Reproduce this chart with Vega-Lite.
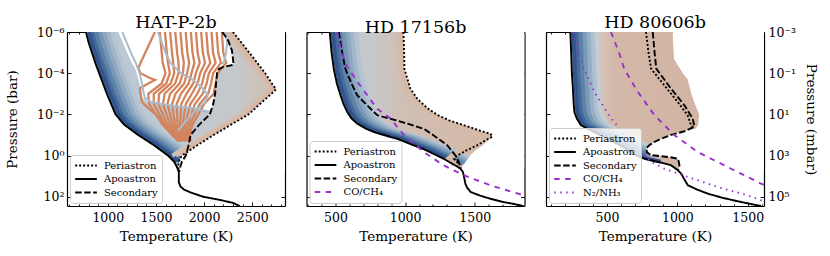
{
"$schema": "https://vega.github.io/schema/vega-lite/v6.json",
"background": "white",
"padding": {"left": 5, "top": 13, "right": 5, "bottom": 5},
"spacing": 21.5,
"bounds": "flush",
"config": {
 "font": "DejaVu Serif",
 "view": {"stroke": null},
 "title": {"font": "DejaVu Serif", "fontSize": 17.5, "fontWeight": "normal", "offset": -5, "color": "black", "anchor": "middle", "frame": "group"},
 "axis": {"labelFont": "DejaVu Serif", "labelFontSize": 12.5, "titleFont": "DejaVu Serif", "titleFontSize": 13.5, "titleFontWeight": "normal", "labelColor": "black", "titleColor": "black", "tickColor": "black", "domainColor": "black", "domainWidth": 1.2, "tickWidth": 0.9, "grid": false, "zindex": 1, "labelFlush": false, "labelOverlap": false},
 "legend": {"orient": "bottom-left", "offset": 3, "padding": 4, "fillColor": "rgba(255,255,255,0.8)", "strokeColor": "#cccccc", "strokeWidth": 1, "cornerRadius": 3, "symbolType": "stroke", "symbolSize": 470, "symbolStrokeWidth": 1.9, "labelFont": "DejaVu Serif", "labelFontSize": 10, "labelColor": "black", "clipHeight": 13, "rowPadding": 0.5, "labelOffset": 6}
},
"datasets": {
"prof": [
{"p":1,"s":"Apoastron","lp":-6,"T":773},{"p":1,"s":"Apoastron","lp":-5.5,"T":800},{"p":1,"s":"Apoastron","lp":-5,"T":835},{"p":1,"s":"Apoastron","lp":-4.5,"T":870},{"p":1,"s":"Apoastron","lp":-4,"T":910},{"p":1,"s":"Apoastron","lp":-3.5,"T":950},{"p":1,"s":"Apoastron","lp":-3,"T":990},{"p":1,"s":"Apoastron","lp":-2.5,"T":1035},{"p":1,"s":"Apoastron","lp":-2,"T":1080},{"p":1,"s":"Apoastron","lp":-1.5,"T":1170},{"p":1,"s":"Apoastron","lp":-1,"T":1315},{"p":1,"s":"Apoastron","lp":-0.5,"T":1480},{"p":1,"s":"Apoastron","lp":0,"T":1625},{"p":1,"s":"Apoastron","lp":0.3,"T":1690},{"p":1,"s":"Apoastron","lp":0.6,"T":1722},{"p":1,"s":"Apoastron","lp":0.8,"T":1738},{"p":1,"s":"Apoastron","lp":1,"T":1738},{"p":1,"s":"Apoastron","lp":1.3,"T":1738},{"p":1,"s":"Apoastron","lp":1.5,"T":1755},{"p":1,"s":"Apoastron","lp":1.65,"T":1790},{"p":1,"s":"Apoastron","lp":1.8,"T":1865},{"p":1,"s":"Apoastron","lp":2,"T":1990},{"p":1,"s":"Apoastron","lp":2.15,"T":2160},{"p":1,"s":"Apoastron","lp":2.3,"T":2300},{"p":1,"s":"Apoastron","lp":2.45,"T":2370},
{"p":1,"s":"Periastron","lp":-6,"T":2300},{"p":1,"s":"Periastron","lp":-5,"T":2470},{"p":1,"s":"Periastron","lp":-4,"T":2635},{"p":1,"s":"Periastron","lp":-3.5,"T":2705},{"p":1,"s":"Periastron","lp":-3.22,"T":2748},{"p":1,"s":"Periastron","lp":-3,"T":2700},{"p":1,"s":"Periastron","lp":-2.5,"T":2580},{"p":1,"s":"Periastron","lp":-2,"T":2462},{"p":1,"s":"Periastron","lp":-1.5,"T":2280},{"p":1,"s":"Periastron","lp":-1,"T":2100},{"p":1,"s":"Periastron","lp":-0.5,"T":1930},{"p":1,"s":"Periastron","lp":0,"T":1770},{"p":1,"s":"Periastron","lp":0.2,"T":1745},{"p":1,"s":"Periastron","lp":0.5,"T":1730},{"p":1,"s":"Periastron","lp":0.8,"T":1742},
{"p":1,"s":"Secondary","lp":-6,"T":2190},{"p":1,"s":"Secondary","lp":-5.6,"T":2250},{"p":1,"s":"Secondary","lp":-5.1,"T":2290},{"p":1,"s":"Secondary","lp":-4.5,"T":2305},{"p":1,"s":"Secondary","lp":-4.4,"T":2300},{"p":1,"s":"Secondary","lp":-4.3,"T":2200},{"p":1,"s":"Secondary","lp":-4.2,"T":2155},{"p":1,"s":"Secondary","lp":-4,"T":2135},{"p":1,"s":"Secondary","lp":-3.5,"T":2125},{"p":1,"s":"Secondary","lp":-3,"T":2115},{"p":1,"s":"Secondary","lp":-2.5,"T":2095},{"p":1,"s":"Secondary","lp":-2,"T":2060},{"p":1,"s":"Secondary","lp":-1.5,"T":1950},{"p":1,"s":"Secondary","lp":-1,"T":1860},{"p":1,"s":"Secondary","lp":-0.5,"T":1840},{"p":1,"s":"Secondary","lp":0,"T":1810},{"p":1,"s":"Secondary","lp":0.3,"T":1770},{"p":1,"s":"Secondary","lp":0.6,"T":1750},{"p":1,"s":"Secondary","lp":0.8,"T":1740},
{"p":2,"s":"Apoastron","lp":-6,"T":459},{"p":2,"s":"Apoastron","lp":-5,"T":472},{"p":2,"s":"Apoastron","lp":-4.2,"T":488},{"p":2,"s":"Apoastron","lp":-3.5,"T":510},{"p":2,"s":"Apoastron","lp":-2.93,"T":536},{"p":2,"s":"Apoastron","lp":-2.5,"T":558},{"p":2,"s":"Apoastron","lp":-2.12,"T":584},{"p":2,"s":"Apoastron","lp":-1.8,"T":615},{"p":2,"s":"Apoastron","lp":-1.55,"T":656},{"p":2,"s":"Apoastron","lp":-1.3,"T":720},{"p":2,"s":"Apoastron","lp":-1.15,"T":775},{"p":2,"s":"Apoastron","lp":-1,"T":850},{"p":2,"s":"Apoastron","lp":-0.82,"T":943},{"p":2,"s":"Apoastron","lp":-0.5,"T":1060},{"p":2,"s":"Apoastron","lp":-0.32,"T":1132},{"p":2,"s":"Apoastron","lp":0,"T":1230},{"p":2,"s":"Apoastron","lp":0.15,"T":1275},{"p":2,"s":"Apoastron","lp":0.4,"T":1340},{"p":2,"s":"Apoastron","lp":0.63,"T":1397},{"p":2,"s":"Apoastron","lp":0.8,"T":1415},{"p":2,"s":"Apoastron","lp":0.95,"T":1420},{"p":2,"s":"Apoastron","lp":1.2,"T":1428},{"p":2,"s":"Apoastron","lp":1.38,"T":1433},{"p":2,"s":"Apoastron","lp":1.55,"T":1445},{"p":2,"s":"Apoastron","lp":1.77,"T":1470},{"p":2,"s":"Apoastron","lp":1.95,"T":1540},{"p":2,"s":"Apoastron","lp":2.1,"T":1613},{"p":2,"s":"Apoastron","lp":2.25,"T":1700},{"p":2,"s":"Apoastron","lp":2.35,"T":1780},{"p":2,"s":"Apoastron","lp":2.45,"T":1850},
{"p":2,"s":"Periastron","lp":-6,"T":988},{"p":2,"s":"Periastron","lp":-5,"T":993},{"p":2,"s":"Periastron","lp":-4.2,"T":995},{"p":2,"s":"Periastron","lp":-3.25,"T":1038},{"p":2,"s":"Periastron","lp":-2.75,"T":1088},{"p":2,"s":"Periastron","lp":-2.3,"T":1160},{"p":2,"s":"Periastron","lp":-1.97,"T":1232},{"p":2,"s":"Periastron","lp":-1.7,"T":1320},{"p":2,"s":"Periastron","lp":-1.48,"T":1419},{"p":2,"s":"Periastron","lp":-1.25,"T":1520},{"p":2,"s":"Periastron","lp":-1.05,"T":1613},{"p":2,"s":"Periastron","lp":-0.92,"T":1627},{"p":2,"s":"Periastron","lp":-0.75,"T":1580},{"p":2,"s":"Periastron","lp":-0.5,"T":1518},{"p":2,"s":"Periastron","lp":-0.25,"T":1440},{"p":2,"s":"Periastron","lp":0,"T":1376},{"p":2,"s":"Periastron","lp":0.15,"T":1350},{"p":2,"s":"Periastron","lp":0.3,"T":1370},{"p":2,"s":"Periastron","lp":0.45,"T":1392},
{"p":2,"s":"Secondary","lp":-6,"T":524},{"p":2,"s":"Secondary","lp":-5,"T":548},{"p":2,"s":"Secondary","lp":-4.2,"T":572},{"p":2,"s":"Secondary","lp":-3.5,"T":615},{"p":2,"s":"Secondary","lp":-2.93,"T":656},{"p":2,"s":"Secondary","lp":-2.5,"T":718},{"p":2,"s":"Secondary","lp":-1.96,"T":800},{"p":2,"s":"Secondary","lp":-1.7,"T":940},{"p":2,"s":"Secondary","lp":-1.5,"T":1040},{"p":2,"s":"Secondary","lp":-1.3,"T":1134},{"p":2,"s":"Secondary","lp":-1,"T":1200},{"p":2,"s":"Secondary","lp":-0.5,"T":1302},{"p":2,"s":"Secondary","lp":0,"T":1362},{"p":2,"s":"Secondary","lp":0.15,"T":1374},{"p":2,"s":"Secondary","lp":0.4,"T":1390},{"p":2,"s":"Secondary","lp":0.63,"T":1400},
{"p":2,"s":"CO/CH₄","lp":-6,"T":512},{"p":2,"s":"CO/CH₄","lp":-5,"T":545},{"p":2,"s":"CO/CH₄","lp":-4.45,"T":572},{"p":2,"s":"CO/CH₄","lp":-3.57,"T":658},{"p":2,"s":"CO/CH₄","lp":-2.27,"T":800},{"p":2,"s":"CO/CH₄","lp":-1.8,"T":895},{"p":2,"s":"CO/CH₄","lp":-1,"T":990},{"p":2,"s":"CO/CH₄","lp":-0.17,"T":1134},{"p":2,"s":"CO/CH₄","lp":0.47,"T":1275},{"p":2,"s":"CO/CH₄","lp":0.95,"T":1419},{"p":2,"s":"CO/CH₄","lp":1.45,"T":1613},{"p":2,"s":"CO/CH₄","lp":1.93,"T":1850},{"p":2,"s":"CO/CH₄","lp":2,"T":1880},
{"p":3,"s":"Apoastron","lp":-6,"T":239},{"p":3,"s":"Apoastron","lp":-5,"T":245},{"p":3,"s":"Apoastron","lp":-4,"T":250},{"p":3,"s":"Apoastron","lp":-3.4,"T":256},{"p":3,"s":"Apoastron","lp":-2.5,"T":263},{"p":3,"s":"Apoastron","lp":-2.1,"T":268},{"p":3,"s":"Apoastron","lp":-1.8,"T":285},{"p":3,"s":"Apoastron","lp":-1.47,"T":315},{"p":3,"s":"Apoastron","lp":-1.2,"T":390},{"p":3,"s":"Apoastron","lp":-1,"T":450},{"p":3,"s":"Apoastron","lp":-0.7,"T":540},{"p":3,"s":"Apoastron","lp":-0.4,"T":620},{"p":3,"s":"Apoastron","lp":-0.2,"T":665},{"p":3,"s":"Apoastron","lp":0,"T":710},{"p":3,"s":"Apoastron","lp":0.15,"T":765},{"p":3,"s":"Apoastron","lp":0.3,"T":860},{"p":3,"s":"Apoastron","lp":0.47,"T":955},{"p":3,"s":"Apoastron","lp":0.71,"T":1003},{"p":3,"s":"Apoastron","lp":0.9,"T":1030},{"p":3,"s":"Apoastron","lp":1.1,"T":1045},{"p":3,"s":"Apoastron","lp":1.44,"T":1074},{"p":3,"s":"Apoastron","lp":1.65,"T":1140},{"p":3,"s":"Apoastron","lp":1.85,"T":1216},{"p":3,"s":"Apoastron","lp":2.05,"T":1320},{"p":3,"s":"Apoastron","lp":2.22,"T":1429},{"p":3,"s":"Apoastron","lp":2.35,"T":1520},{"p":3,"s":"Apoastron","lp":2.45,"T":1595},
{"p":3,"s":"Periastron","lp":-6,"T":777},{"p":3,"s":"Periastron","lp":-5,"T":795},{"p":3,"s":"Periastron","lp":-4.22,"T":813},{"p":3,"s":"Periastron","lp":-3.41,"T":907},{"p":3,"s":"Periastron","lp":-2.6,"T":1003},{"p":3,"s":"Periastron","lp":-1.95,"T":1074},{"p":3,"s":"Periastron","lp":-1.47,"T":1097},{"p":3,"s":"Periastron","lp":-1.35,"T":1112},
{"p":3,"s":"Secondary","lp":-6,"T":825},{"p":3,"s":"Secondary","lp":-5,"T":838},{"p":3,"s":"Secondary","lp":-4.22,"T":850},{"p":3,"s":"Secondary","lp":-3.25,"T":955},{"p":3,"s":"Secondary","lp":-2.44,"T":1050},{"p":3,"s":"Secondary","lp":-1.8,"T":1109},{"p":3,"s":"Secondary","lp":-1.4,"T":1121},{"p":3,"s":"Secondary","lp":-1.2,"T":1060},{"p":3,"s":"Secondary","lp":-1,"T":955},{"p":3,"s":"Secondary","lp":-0.8,"T":880},{"p":3,"s":"Secondary","lp":-0.66,"T":836},{"p":3,"s":"Secondary","lp":-0.5,"T":800},{"p":3,"s":"Secondary","lp":-0.34,"T":777},{"p":3,"s":"Secondary","lp":-0.15,"T":785},{"p":3,"s":"Secondary","lp":-0.02,"T":813},{"p":3,"s":"Secondary","lp":0.08,"T":950},{"p":3,"s":"Secondary","lp":0.15,"T":1003},{"p":3,"s":"Secondary","lp":0.3,"T":1010},{"p":3,"s":"Secondary","lp":0.47,"T":1015},{"p":3,"s":"Secondary","lp":0.6,"T":1010},{"p":3,"s":"Secondary","lp":0.71,"T":1003},
{"p":3,"s":"CO/CH₄","lp":-6,"T":528},{"p":3,"s":"CO/CH₄","lp":-5,"T":585},{"p":3,"s":"CO/CH₄","lp":-4.2,"T":623},{"p":3,"s":"CO/CH₄","lp":-3.1,"T":718},{"p":3,"s":"CO/CH₄","lp":-1.97,"T":836},{"p":3,"s":"CO/CH₄","lp":-1,"T":977},{"p":3,"s":"CO/CH₄","lp":-0.17,"T":1145},{"p":3,"s":"CO/CH₄","lp":0.64,"T":1382},{"p":3,"s":"CO/CH₄","lp":1.36,"T":1595},{"p":3,"s":"CO/CH₄","lp":1.45,"T":1625},
{"p":3,"s":"N₂/NH₃","lp":-6,"T":262},{"p":3,"s":"N₂/NH₃","lp":-5,"T":295},{"p":3,"s":"N₂/NH₃","lp":-4.2,"T":338},{"p":3,"s":"N₂/NH₃","lp":-3.1,"T":409},{"p":3,"s":"N₂/NH₃","lp":-1.8,"T":528},{"p":3,"s":"N₂/NH₃","lp":-0.67,"T":671},{"p":3,"s":"N₂/NH₃","lp":0.3,"T":813},{"p":3,"s":"N₂/NH₃","lp":0.64,"T":907},{"p":3,"s":"N₂/NH₃","lp":1.04,"T":1074},{"p":3,"s":"N₂/NH₃","lp":1.53,"T":1287},{"p":3,"s":"N₂/NH₃","lp":1.93,"T":1500},{"p":3,"s":"N₂/NH₃","lp":2.25,"T":1625}
],
"fill": [
{"p":1,"lp":-6,"lo":773,"hi":2300},{"p":1,"lp":-5,"lo":835,"hi":2470},{"p":1,"lp":-4,"lo":910,"hi":2635},{"p":1,"lp":-3.5,"lo":950,"hi":2705},{"p":1,"lp":-3.22,"lo":972,"hi":2748},{"p":1,"lp":-3,"lo":990,"hi":2700},{"p":1,"lp":-2.5,"lo":1035,"hi":2580},{"p":1,"lp":-2,"lo":1080,"hi":2462},{"p":1,"lp":-1.5,"lo":1170,"hi":2280},{"p":1,"lp":-1,"lo":1315,"hi":2100},{"p":1,"lp":-0.5,"lo":1480,"hi":1930},{"p":1,"lp":0,"lo":1625,"hi":1770},{"p":1,"lp":0.2,"lo":1668,"hi":1745},{"p":1,"lp":0.5,"lo":1712,"hi":1730},{"p":1,"lp":0.8,"lo":1738,"hi":1742},
{"p":2,"lp":-6,"lo":459,"hi":988},{"p":2,"lp":-5,"lo":472,"hi":993},{"p":2,"lp":-4.2,"lo":488,"hi":995},{"p":2,"lp":-3.25,"lo":515,"hi":1038},{"p":2,"lp":-2.75,"lo":545,"hi":1088},{"p":2,"lp":-2.3,"lo":570,"hi":1160},{"p":2,"lp":-1.97,"lo":600,"hi":1232},{"p":2,"lp":-1.7,"lo":630,"hi":1320},{"p":2,"lp":-1.48,"lo":672,"hi":1419},{"p":2,"lp":-1.25,"lo":740,"hi":1520},{"p":2,"lp":-1.05,"lo":825,"hi":1613},{"p":2,"lp":-0.92,"lo":890,"hi":1627},{"p":2,"lp":-0.75,"lo":975,"hi":1600},{"p":2,"lp":-0.5,"lo":1060,"hi":1560},{"p":2,"lp":-0.25,"lo":1160,"hi":1505},{"p":2,"lp":0,"lo":1230,"hi":1469},{"p":2,"lp":0.2,"lo":1290,"hi":1445},{"p":2,"lp":0.4,"lo":1340,"hi":1425},{"p":2,"lp":0.6,"lo":1390,"hi":1405},
{"p":3,"lp":-6,"lo":239,"hi":967},{"p":3,"lp":-5,"lo":245,"hi":975},{"p":3,"lp":-4.7,"lo":247,"hi":977},{"p":3,"lp":-4,"lo":250,"hi":1040},{"p":3,"lp":-3.7,"lo":253,"hi":1074},{"p":3,"lp":-3,"lo":259,"hi":1100},{"p":3,"lp":-2.6,"lo":262,"hi":1121},{"p":3,"lp":-2,"lo":270,"hi":1155},{"p":3,"lp":-1.5,"lo":310,"hi":1150},{"p":3,"lp":-1.3,"lo":365,"hi":1130},{"p":3,"lp":-1.2,"lo":390,"hi":1060},{"p":3,"lp":-1,"lo":450,"hi":955},{"p":3,"lp":-0.8,"lo":510,"hi":880},{"p":3,"lp":-0.66,"lo":552,"hi":836},{"p":3,"lp":-0.5,"lo":590,"hi":800},{"p":3,"lp":-0.34,"lo":633,"hi":777},{"p":3,"lp":-0.15,"lo":675,"hi":785},{"p":3,"lp":-0.02,"lo":705,"hi":813},{"p":3,"lp":0.08,"lo":740,"hi":950},{"p":3,"lp":0.15,"lo":765,"hi":1003},{"p":3,"lp":0.3,"lo":860,"hi":1010},{"p":3,"lp":0.47,"lo":955,"hi":1015},{"p":3,"lp":0.6,"lo":985,"hi":1010},{"p":3,"lp":0.71,"lo":1003,"hi":1003}
],
"hole": [
{"lp":-6,"L":1110,"R":2190},{"lp":-5,"L":1200,"R":2290},{"lp":-4.5,"L":1250,"R":2305},{"lp":-4.4,"L":1262,"R":2300},{"lp":-4.3,"L":1275,"R":2200},{"lp":-4.2,"L":1285,"R":2155},{"lp":-4,"L":1300,"R":2135},{"lp":-3.5,"L":1330,"R":2125},{"lp":-3,"L":1350,"R":2115},{"lp":-2.8,"L":1360,"R":2110},{"lp":-2.6,"L":1420,"R":2100},{"lp":-2.45,"L":1600,"R":2095},{"lp":-2.3,"L":1900,"R":2080},{"lp":-2.2,"L":2070,"R":2072}
],
"pale": [
{"id":1,"lp":-6,"T":1150},{"id":1,"lp":-5,"T":1240},{"id":1,"lp":-4.5,"T":1290},{"id":1,"lp":-4,"T":1330},{"id":1,"lp":-3.5,"T":1355},{"id":1,"lp":-3,"T":1375},{"id":1,"lp":-2.8,"T":1385},{"id":1,"lp":-2.6,"T":1450},{"id":1,"lp":-2.45,"T":1620},{"id":1,"lp":-2.3,"T":1880},{"id":1,"lp":-2.1,"T":2040},
{"id":2,"lp":-6,"T":1520},{"id":2,"lp":-5.5,"T":1560},{"id":2,"lp":-5,"T":1600},{"id":2,"lp":-4.5,"T":1650},{"id":2,"lp":-4,"T":1760},{"id":2,"lp":-3.67,"T":1888},{"id":2,"lp":-3.3,"T":1980},{"id":2,"lp":-2.94,"T":2040},{"id":2,"lp":-2.6,"T":2010},{"id":2,"lp":-2.3,"T":1940},{"id":2,"lp":-2,"T":1870},{"id":2,"lp":-1.5,"T":1780},{"id":2,"lp":-1.2,"T":1730},
{"id":3,"lp":-6,"T":2215},{"id":3,"lp":-5.5,"T":2240},{"id":3,"lp":-5,"T":2230},{"id":3,"lp":-4.6,"T":2210},{"id":3,"lp":-4.45,"T":2190}
],
"orange": [
{"id":1,"lp":-6,"T":1490},{"id":1,"lp":-5.5,"T":1440},{"id":1,"lp":-5,"T":1390},{"id":1,"lp":-4.5,"T":1340},{"id":1,"lp":-4.24,"T":1317},{"id":1,"lp":-4,"T":1340},{"id":1,"lp":-3.8,"T":1420},{"id":1,"lp":-3.67,"T":1490},{"id":1,"lp":-3.5,"T":1420},{"id":1,"lp":-3.27,"T":1334},{"id":1,"lp":-3,"T":1340},{"id":1,"lp":-2.62,"T":1352},{"id":1,"lp":-2.3,"T":1420},{"id":1,"lp":-2,"T":1500},{"id":1,"lp":-1.5,"T":1590},{"id":1,"lp":-1,"T":1670},{"id":1,"lp":-0.7,"T":1735},
{"id":2,"lp":-6,"T":1540},{"id":2,"lp":-5,"T":1560},{"id":2,"lp":-4.5,"T":1570},{"id":2,"lp":-4,"T":1600},{"id":2,"lp":-3.5,"T":1560},{"id":2,"lp":-3,"T":1420},{"id":2,"lp":-2.5,"T":1430},{"id":2,"lp":-2,"T":1500},{"id":2,"lp":-1.5,"T":1570},{"id":2,"lp":-1,"T":1670},{"id":2,"lp":-0.7,"T":1740},
{"id":3,"lp":-6,"T":1594},{"id":3,"lp":-5,"T":1613},{"id":3,"lp":-4.5,"T":1625},{"id":3,"lp":-4,"T":1645},{"id":3,"lp":-3.5,"T":1607},{"id":3,"lp":-3,"T":1477},{"id":3,"lp":-2.5,"T":1478},{"id":3,"lp":-2,"T":1537},{"id":3,"lp":-1.5,"T":1596},{"id":3,"lp":-1,"T":1685},{"id":3,"lp":-0.7,"T":1750},
{"id":4,"lp":-6,"T":1648},{"id":4,"lp":-5,"T":1667},{"id":4,"lp":-4.5,"T":1680},{"id":4,"lp":-4,"T":1690},{"id":4,"lp":-3.5,"T":1653},{"id":4,"lp":-3,"T":1533},{"id":4,"lp":-2.5,"T":1525},{"id":4,"lp":-2,"T":1573},{"id":4,"lp":-1.5,"T":1622},{"id":4,"lp":-1,"T":1700},{"id":4,"lp":-0.7,"T":1760},
{"id":5,"lp":-6,"T":1701},{"id":5,"lp":-5,"T":1720},{"id":5,"lp":-4.5,"T":1735},{"id":5,"lp":-4,"T":1735},{"id":5,"lp":-3.5,"T":1700},{"id":5,"lp":-3,"T":1590},{"id":5,"lp":-2.5,"T":1573},{"id":5,"lp":-2,"T":1610},{"id":5,"lp":-1.5,"T":1648},{"id":5,"lp":-1,"T":1715},{"id":5,"lp":-0.7,"T":1770},
{"id":6,"lp":-6,"T":1755},{"id":6,"lp":-5,"T":1773},{"id":6,"lp":-4.5,"T":1790},{"id":6,"lp":-4,"T":1780},{"id":6,"lp":-3.5,"T":1747},{"id":6,"lp":-3,"T":1647},{"id":6,"lp":-2.5,"T":1620},{"id":6,"lp":-2,"T":1647},{"id":6,"lp":-1.5,"T":1673},{"id":6,"lp":-1,"T":1730},{"id":6,"lp":-0.7,"T":1780},
{"id":7,"lp":-6,"T":1809},{"id":7,"lp":-5,"T":1827},{"id":7,"lp":-4.5,"T":1845},{"id":7,"lp":-4,"T":1825},{"id":7,"lp":-3.5,"T":1793},{"id":7,"lp":-3,"T":1703},{"id":7,"lp":-2.5,"T":1668},{"id":7,"lp":-2,"T":1683},{"id":7,"lp":-1.5,"T":1699},{"id":7,"lp":-1,"T":1745},{"id":7,"lp":-0.7,"T":1790},
{"id":8,"lp":-6,"T":1863},{"id":8,"lp":-5,"T":1880},{"id":8,"lp":-4.5,"T":1900},{"id":8,"lp":-4,"T":1870},{"id":8,"lp":-3.5,"T":1840},{"id":8,"lp":-3,"T":1760},{"id":8,"lp":-2.5,"T":1715},{"id":8,"lp":-2,"T":1720},{"id":8,"lp":-1.5,"T":1725},{"id":8,"lp":-1,"T":1760},{"id":8,"lp":-0.7,"T":1800},
{"id":9,"lp":-6,"T":1916},{"id":9,"lp":-5,"T":1933},{"id":9,"lp":-4.5,"T":1955},{"id":9,"lp":-4,"T":1915},{"id":9,"lp":-3.5,"T":1887},{"id":9,"lp":-3,"T":1817},{"id":9,"lp":-2.5,"T":1763},{"id":9,"lp":-2,"T":1757},{"id":9,"lp":-1.5,"T":1751},{"id":9,"lp":-1,"T":1775},{"id":9,"lp":-0.7,"T":1810},
{"id":10,"lp":-6,"T":1970},{"id":10,"lp":-5,"T":1987},{"id":10,"lp":-4.5,"T":2010},{"id":10,"lp":-4,"T":1960},{"id":10,"lp":-3.5,"T":1933},{"id":10,"lp":-3,"T":1873},{"id":10,"lp":-2.5,"T":1810},{"id":10,"lp":-2,"T":1793},{"id":10,"lp":-1.5,"T":1777},{"id":10,"lp":-1,"T":1790},{"id":10,"lp":-0.7,"T":1820},
{"id":11,"lp":-6,"T":2024},{"id":11,"lp":-5,"T":2040},{"id":11,"lp":-4.5,"T":2065},{"id":11,"lp":-4,"T":2005},{"id":11,"lp":-3.5,"T":1980},{"id":11,"lp":-3,"T":1930},{"id":11,"lp":-2.5,"T":1858},{"id":11,"lp":-2,"T":1830},{"id":11,"lp":-1.5,"T":1803},{"id":11,"lp":-1,"T":1805},{"id":11,"lp":-0.7,"T":1830},
{"id":12,"lp":-6,"T":2078},{"id":12,"lp":-5,"T":2093},{"id":12,"lp":-4.5,"T":2120},{"id":12,"lp":-4,"T":2050},{"id":12,"lp":-3.5,"T":2027},{"id":12,"lp":-3,"T":1987},{"id":12,"lp":-2.5,"T":1905},{"id":12,"lp":-2,"T":1867},{"id":12,"lp":-1.5,"T":1828},{"id":12,"lp":-1,"T":1820},{"id":12,"lp":-0.7,"T":1840},
{"id":13,"lp":-6,"T":2131},{"id":13,"lp":-5,"T":2147},{"id":13,"lp":-4.5,"T":2175},{"id":13,"lp":-4,"T":2095},{"id":13,"lp":-3.5,"T":2073},{"id":13,"lp":-3,"T":2043},{"id":13,"lp":-2.5,"T":1953},{"id":13,"lp":-2,"T":1903},{"id":13,"lp":-1.5,"T":1854},{"id":13,"lp":-1,"T":1835},{"id":13,"lp":-0.7,"T":1850},
{"id":14,"lp":-6,"T":2185},{"id":14,"lp":-5,"T":2200},{"id":14,"lp":-4.5,"T":2230},{"id":14,"lp":-4,"T":2140},{"id":14,"lp":-3.5,"T":2120},{"id":14,"lp":-3,"T":2100},{"id":14,"lp":-2.5,"T":2000},{"id":14,"lp":-2,"T":1940},{"id":14,"lp":-1.5,"T":1880},{"id":14,"lp":-1,"T":1850},{"id":14,"lp":-0.7,"T":1860}
]
},
"hconcat": [
{
 "width": 218, "height": 174,
 "title": "HAT-P-2b",
 "resolve": {"axis": {"x": "independent", "y": "independent"}},
 "layer": [
  {"data": {"name": "fill"}, "transform": [{"filter": "datum.p == 1"}],
   "mark": {"type": "area", "orient": "horizontal", "clip": true, "fill": {"gradient": "linear", "x1": 0, "y1": 0, "x2": 1, "y2": 0, "stops": [{"offset": 0, "color": "#b9c7d4"}, {"offset": 0.5, "color": "#c0c9d2"}, {"offset": 0.8, "color": "#c6c8ca"}, {"offset": 1, "color": "#d2bfb3"}]}},
   "encoding": {
    "y": {"field": "lp", "type": "quantitative", "scale": {"domain": [-6, 2.45], "reverse": true, "nice": false, "zero": false}, "axis": {"orient": "right", "values": [-6, -4, -2, 0, 2], "tickSize": -4, "labels": false, "title": null}},
    "x": {"field": "lo", "type": "quantitative", "scale": {"domain": [576, 2841], "nice": false, "zero": false}, "axis": {"orient": "top", "values": [600,700,800,900,1000,1100,1200,1300,1400,1500,1600,1700,1800,1900,2000,2100,2200,2300,2400,2500,2600,2700,2800], "labels": false, "title": null, "tickSize": {"condition": {"test": "datum.value % 500 === 0", "value": -4}, "value": -2}}},
    "x2": {"field": "hi"}}},
  {"data": {"name": "prof"}, "transform": [{"filter": "datum.p == 1 && datum.s == 'Apoastron' && datum.lp <= 0.3"}], "mark": {"type": "line", "xOffset": 26, "color": "#b4c3d1", "strokeWidth": 4.5, "clip": true}, "encoding": {"x": {"field": "T", "type": "quantitative", "axis": null}, "y": {"field": "lp", "type": "quantitative", "axis": null}, "order": {"field": "lp", "type": "quantitative"}}},
  {"data": {"name": "prof"}, "transform": [{"filter": "datum.p == 1 && datum.s == 'Apoastron' && datum.lp <= 0.3"}], "mark": {"type": "line", "xOffset": 22, "color": "#a3b7c9", "strokeWidth": 4.5, "clip": true}, "encoding": {"x": {"field": "T", "type": "quantitative", "axis": null}, "y": {"field": "lp", "type": "quantitative", "axis": null}, "order": {"field": "lp", "type": "quantitative"}}},
  {"data": {"name": "prof"}, "transform": [{"filter": "datum.p == 1 && datum.s == 'Apoastron' && datum.lp <= 0.3"}], "mark": {"type": "line", "xOffset": 18, "color": "#8ea8c0", "strokeWidth": 4.5, "clip": true}, "encoding": {"x": {"field": "T", "type": "quantitative", "axis": null}, "y": {"field": "lp", "type": "quantitative", "axis": null}, "order": {"field": "lp", "type": "quantitative"}}},
  {"data": {"name": "prof"}, "transform": [{"filter": "datum.p == 1 && datum.s == 'Apoastron' && datum.lp <= 0.3"}], "mark": {"type": "line", "xOffset": 14, "color": "#7596b4", "strokeWidth": 4.5, "clip": true}, "encoding": {"x": {"field": "T", "type": "quantitative", "axis": null}, "y": {"field": "lp", "type": "quantitative", "axis": null}, "order": {"field": "lp", "type": "quantitative"}}},
  {"data": {"name": "prof"}, "transform": [{"filter": "datum.p == 1 && datum.s == 'Apoastron' && datum.lp <= 0.3"}], "mark": {"type": "line", "xOffset": 10, "color": "#5c82a8", "strokeWidth": 4.5, "clip": true}, "encoding": {"x": {"field": "T", "type": "quantitative", "axis": null}, "y": {"field": "lp", "type": "quantitative", "axis": null}, "order": {"field": "lp", "type": "quantitative"}}},
  {"data": {"name": "prof"}, "transform": [{"filter": "datum.p == 1 && datum.s == 'Apoastron' && datum.lp <= 0.3"}], "mark": {"type": "line", "xOffset": 6, "color": "#44699a", "strokeWidth": 4.5, "clip": true}, "encoding": {"x": {"field": "T", "type": "quantitative", "axis": null}, "y": {"field": "lp", "type": "quantitative", "axis": null}, "order": {"field": "lp", "type": "quantitative"}}},
  {"data": {"name": "prof"}, "transform": [{"filter": "datum.p == 1 && datum.s == 'Apoastron' && datum.lp <= 0.3"}], "mark": {"type": "line", "xOffset": 3, "color": "#31548a", "strokeWidth": 4, "clip": true}, "encoding": {"x": {"field": "T", "type": "quantitative", "axis": null}, "y": {"field": "lp", "type": "quantitative", "axis": null}, "order": {"field": "lp", "type": "quantitative"}}},
  {"data": {"name": "prof"}, "transform": [{"filter": "datum.p == 1 && datum.s == 'Periastron' && datum.lp <= 0"}], "mark": {"type": "line", "xOffset": -9.5, "color": "#cbc3bd", "strokeWidth": 4, "clip": true}, "encoding": {"x": {"field": "T", "type": "quantitative", "axis": null}, "y": {"field": "lp", "type": "quantitative", "axis": null}, "order": {"field": "lp", "type": "quantitative"}}},
  {"data": {"name": "prof"}, "transform": [{"filter": "datum.p == 1 && datum.s == 'Periastron' && datum.lp <= 0"}], "mark": {"type": "line", "xOffset": -6, "color": "#d3bdaf", "strokeWidth": 4, "clip": true}, "encoding": {"x": {"field": "T", "type": "quantitative", "axis": null}, "y": {"field": "lp", "type": "quantitative", "axis": null}, "order": {"field": "lp", "type": "quantitative"}}},
  {"data": {"name": "prof"}, "transform": [{"filter": "datum.p == 1 && datum.s == 'Periastron' && datum.lp <= 0"}], "mark": {"type": "line", "xOffset": -2.5, "color": "#d9b7a4", "strokeWidth": 4, "clip": true}, "encoding": {"x": {"field": "T", "type": "quantitative", "axis": null}, "y": {"field": "lp", "type": "quantitative", "axis": null}, "order": {"field": "lp", "type": "quantitative"}}},
  {"data": {"name": "fill"}, "transform": [{"filter": "datum.p == 1"}], "mark": {"type": "area", "orient": "horizontal", "color": "white", "clip": true}, "encoding": {"y": {"field": "lp", "type": "quantitative", "axis": null}, "x": {"field": "hi", "type": "quantitative", "axis": null}, "x2": {"datum": 2841}}},
  {"data": {"name": "hole"}, "mark": {"type": "area", "orient": "horizontal", "color": "white", "clip": true}, "encoding": {"y": {"field": "lp", "type": "quantitative", "axis": null}, "x": {"field": "L", "type": "quantitative", "axis": null}, "x2": {"field": "R"}}},
  {"data": {"name": "orange"}, "mark": {"type": "line", "color": "#d3845c", "strokeWidth": 2.3, "clip": true}, "encoding": {"x": {"field": "T", "type": "quantitative", "axis": null}, "y": {"field": "lp", "type": "quantitative", "axis": null}, "detail": {"field": "id"}, "order": {"field": "lp", "type": "quantitative"}}},
  {"data": {"name": "pale"}, "mark": {"type": "line", "color": "#a9bccb", "strokeWidth": 2, "clip": true}, "encoding": {"x": {"field": "T", "type": "quantitative", "axis": null}, "y": {"field": "lp", "type": "quantitative", "axis": null}, "detail": {"field": "id"}, "order": {"field": "lp", "type": "quantitative"}}},
  {"data": {"name": "prof"}, "transform": [{"filter": "datum.p == 1"}], "mark": {"type": "line", "strokeWidth": 1.9, "clip": true},
   "encoding": {
    "x": {"field": "T", "type": "quantitative", "axis": {"orient": "bottom", "values": [600,700,800,900,1000,1100,1200,1300,1400,1500,1600,1700,1800,1900,2000,2100,2200,2300,2400,2500,2600,2700,2800], "format": "d", "labelExpr": "datum.value % 500 === 0 ? datum.label : ''", "tickSize": {"condition": {"test": "datum.value % 500 === 0", "value": -4}, "value": -2}, "labelPadding": 9, "title": "Temperature (K)", "titlePadding": 4}},
    "y": {"field": "lp", "type": "quantitative", "axis": {"orient": "left", "values": [-6, -4, -2, 0, 2], "tickSize": -4, "labelPadding": 7, "labelExpr": "datum.value == -6 ? '10⁻⁶' : datum.value == -4 ? '10⁻⁴' : datum.value == -2 ? '10⁻²' : datum.value == 0 ? '10⁰' : '10²'", "title": "Pressure (bar)", "titlePadding": 17}},
    "order": {"field": "lp", "type": "quantitative"},
    "color": {"field": "s", "type": "nominal", "scale": {"domain": ["Periastron", "Apoastron", "Secondary"], "range": ["black", "black", "black"]}, "legend": {"title": null}},
    "strokeDash": {"field": "s", "type": "nominal", "scale": {"domain": ["Periastron", "Apoastron", "Secondary"], "range": [[2, 2], [1, 0], [6.5, 2.5]]}, "legend": {"title": null}}}}
 ]
},
{
 "width": 218, "height": 174,
 "title": "HD 17156b",
 "resolve": {"axis": {"x": "independent", "y": "independent"}},
 "layer": [
  {"data": {"name": "fill"}, "transform": [{"filter": "datum.p == 2"}],
   "mark": {"type": "area", "orient": "horizontal", "clip": true, "fill": {"gradient": "linear", "x1": 0, "y1": 0, "x2": 1, "y2": 0, "stops": [{"offset": 0, "color": "#b8c6d3"}, {"offset": 0.25, "color": "#c6c9cc"}, {"offset": 0.45, "color": "#d0bfb4"}, {"offset": 1, "color": "#d5b8a6"}]}},
   "encoding": {
    "y": {"field": "lp", "type": "quantitative", "scale": {"domain": [-6, 2.45], "reverse": true, "nice": false, "zero": false}, "axis": {"orient": "right", "values": [-6, -4, -2, 0, 2], "tickSize": -4, "labels": false, "title": null}},
    "x": {"field": "lo", "type": "quantitative", "scale": {"domain": [292, 1857], "nice": false, "zero": false}, "axis": {"orient": "top", "values": [300,400,500,600,700,800,900,1000,1100,1200,1300,1400,1500,1600,1700,1800], "labels": false, "title": null, "tickSize": {"condition": {"test": "datum.value % 500 === 0", "value": -4}, "value": -2}}},
    "x2": {"field": "hi"}}},
  {"data": {"name": "prof"}, "transform": [{"filter": "datum.p == 2 && datum.s == 'Apoastron' && datum.lp <= 0.5"}], "mark": {"type": "line", "xOffset": 26, "color": "#b4c3d1", "strokeWidth": 4.5, "clip": true}, "encoding": {"x": {"field": "T", "type": "quantitative", "axis": null}, "y": {"field": "lp", "type": "quantitative", "axis": null}, "order": {"field": "lp", "type": "quantitative"}}},
  {"data": {"name": "prof"}, "transform": [{"filter": "datum.p == 2 && datum.s == 'Apoastron' && datum.lp <= 0.5"}], "mark": {"type": "line", "xOffset": 22, "color": "#a3b7c9", "strokeWidth": 4.5, "clip": true}, "encoding": {"x": {"field": "T", "type": "quantitative", "axis": null}, "y": {"field": "lp", "type": "quantitative", "axis": null}, "order": {"field": "lp", "type": "quantitative"}}},
  {"data": {"name": "prof"}, "transform": [{"filter": "datum.p == 2 && datum.s == 'Apoastron' && datum.lp <= 0.5"}], "mark": {"type": "line", "xOffset": 18, "color": "#8ea8c0", "strokeWidth": 4.5, "clip": true}, "encoding": {"x": {"field": "T", "type": "quantitative", "axis": null}, "y": {"field": "lp", "type": "quantitative", "axis": null}, "order": {"field": "lp", "type": "quantitative"}}},
  {"data": {"name": "prof"}, "transform": [{"filter": "datum.p == 2 && datum.s == 'Apoastron' && datum.lp <= 0.5"}], "mark": {"type": "line", "xOffset": 14, "color": "#7596b4", "strokeWidth": 4.5, "clip": true}, "encoding": {"x": {"field": "T", "type": "quantitative", "axis": null}, "y": {"field": "lp", "type": "quantitative", "axis": null}, "order": {"field": "lp", "type": "quantitative"}}},
  {"data": {"name": "prof"}, "transform": [{"filter": "datum.p == 2 && datum.s == 'Apoastron' && datum.lp <= 0.5"}], "mark": {"type": "line", "xOffset": 10, "color": "#5c82a8", "strokeWidth": 4.5, "clip": true}, "encoding": {"x": {"field": "T", "type": "quantitative", "axis": null}, "y": {"field": "lp", "type": "quantitative", "axis": null}, "order": {"field": "lp", "type": "quantitative"}}},
  {"data": {"name": "prof"}, "transform": [{"filter": "datum.p == 2 && datum.s == 'Apoastron' && datum.lp <= 0.5"}], "mark": {"type": "line", "xOffset": 6, "color": "#44699a", "strokeWidth": 4.5, "clip": true}, "encoding": {"x": {"field": "T", "type": "quantitative", "axis": null}, "y": {"field": "lp", "type": "quantitative", "axis": null}, "order": {"field": "lp", "type": "quantitative"}}},
  {"data": {"name": "prof"}, "transform": [{"filter": "datum.p == 2 && datum.s == 'Apoastron' && datum.lp <= 0.5"}], "mark": {"type": "line", "xOffset": 3, "color": "#31548a", "strokeWidth": 4, "clip": true}, "encoding": {"x": {"field": "T", "type": "quantitative", "axis": null}, "y": {"field": "lp", "type": "quantitative", "axis": null}, "order": {"field": "lp", "type": "quantitative"}}},
  {"data": {"name": "prof"}, "transform": [{"filter": "datum.p == 2 && datum.s == 'Periastron'"}], "mark": {"type": "line", "xOffset": -6, "color": "#d3bdaf", "strokeWidth": 4, "clip": true}, "encoding": {"x": {"field": "T", "type": "quantitative", "axis": null}, "y": {"field": "lp", "type": "quantitative", "axis": null}, "order": {"field": "lp", "type": "quantitative"}}},
  {"data": {"name": "prof"}, "transform": [{"filter": "datum.p == 2 && datum.s == 'Periastron'"}], "mark": {"type": "line", "xOffset": -2.5, "color": "#d7b8a5", "strokeWidth": 4, "clip": true}, "encoding": {"x": {"field": "T", "type": "quantitative", "axis": null}, "y": {"field": "lp", "type": "quantitative", "axis": null}, "order": {"field": "lp", "type": "quantitative"}}},
  {"data": {"name": "fill"}, "transform": [{"filter": "datum.p == 2"}], "mark": {"type": "area", "orient": "horizontal", "color": "white", "clip": true}, "encoding": {"y": {"field": "lp", "type": "quantitative", "axis": null}, "x": {"field": "hi", "type": "quantitative", "axis": null}, "x2": {"datum": 1857}}},
  {"data": {"name": "prof"}, "transform": [{"filter": "datum.p == 2"}], "mark": {"type": "line", "strokeWidth": 1.9, "clip": true},
   "encoding": {
    "x": {"field": "T", "type": "quantitative", "axis": {"orient": "bottom", "values": [300,400,500,600,700,800,900,1000,1100,1200,1300,1400,1500,1600,1700,1800], "format": "d", "labelExpr": "datum.value % 500 === 0 ? datum.label : ''", "tickSize": {"condition": {"test": "datum.value % 500 === 0", "value": -4}, "value": -2}, "labelPadding": 9, "title": "Temperature (K)", "titlePadding": 4}},
    "y": {"field": "lp", "type": "quantitative", "axis": {"orient": "left", "values": [-6, -4, -2, 0, 2], "tickSize": -4, "labels": false, "title": null}},
    "order": {"field": "lp", "type": "quantitative"},
    "color": {"field": "s", "type": "nominal", "scale": {"domain": ["Periastron", "Apoastron", "Secondary", "CO/CH₄"], "range": ["black", "black", "black", "#9932cc"]}, "legend": {"title": null}},
    "strokeDash": {"field": "s", "type": "nominal", "scale": {"domain": ["Periastron", "Apoastron", "Secondary", "CO/CH₄"], "range": [[2, 2], [1, 0], [6.5, 2.5], [5.5, 5.5]]}, "legend": {"title": null}}}}
 ]
},
{
 "width": 218, "height": 174,
 "title": "HD 80606b",
 "resolve": {"axis": {"x": "independent", "y": "independent"}},
 "layer": [
  {"data": {"name": "fill"}, "transform": [{"filter": "datum.p == 3"}],
   "mark": {"type": "area", "orient": "horizontal", "clip": true, "fill": {"gradient": "linear", "x1": 0, "y1": 0, "x2": 1, "y2": 0, "stops": [{"offset": 0, "color": "#c9d0d6"}, {"offset": 0.15, "color": "#d8cdc6"}, {"offset": 0.35, "color": "#d3b8a8"}, {"offset": 1, "color": "#d2b4a3"}]}},
   "encoding": {
    "y": {"field": "lp", "type": "quantitative", "scale": {"domain": [-6, 2.45], "reverse": true, "nice": false, "zero": false}, "axis": {"orient": "right", "values": [-6, -4, -2, 0, 2], "tickSize": -4, "labelPadding": 8, "labelExpr": "datum.value == -6 ? '10⁻³' : datum.value == -4 ? '10⁻¹' : datum.value == -2 ? '10¹' : datum.value == 0 ? '10³' : '10⁵'", "title": "Pressure (mbar)", "titlePadding": 8}},
    "x": {"field": "lo", "type": "quantitative", "scale": {"domain": [66, 1616], "nice": false, "zero": false}, "axis": {"orient": "top", "values": [100,200,300,400,500,600,700,800,900,1000,1100,1200,1300,1400,1500,1600], "labels": false, "title": null, "tickSize": {"condition": {"test": "datum.value % 500 === 0", "value": -4}, "value": -2}}},
    "x2": {"field": "hi"}}},
  {"data": {"name": "prof"}, "transform": [{"filter": "datum.p == 3 && datum.s == 'Apoastron' && datum.lp <= 0"}], "mark": {"type": "line", "xOffset": 26, "color": "#c3cdd6", "strokeWidth": 4.5, "clip": true}, "encoding": {"x": {"field": "T", "type": "quantitative", "axis": null}, "y": {"field": "lp", "type": "quantitative", "axis": null}, "order": {"field": "lp", "type": "quantitative"}}},
  {"data": {"name": "prof"}, "transform": [{"filter": "datum.p == 3 && datum.s == 'Apoastron' && datum.lp <= 0"}], "mark": {"type": "line", "xOffset": 22, "color": "#afc0cf", "strokeWidth": 4.5, "clip": true}, "encoding": {"x": {"field": "T", "type": "quantitative", "axis": null}, "y": {"field": "lp", "type": "quantitative", "axis": null}, "order": {"field": "lp", "type": "quantitative"}}},
  {"data": {"name": "prof"}, "transform": [{"filter": "datum.p == 3 && datum.s == 'Apoastron' && datum.lp <= 0"}], "mark": {"type": "line", "xOffset": 18, "color": "#97afc5", "strokeWidth": 4.5, "clip": true}, "encoding": {"x": {"field": "T", "type": "quantitative", "axis": null}, "y": {"field": "lp", "type": "quantitative", "axis": null}, "order": {"field": "lp", "type": "quantitative"}}},
  {"data": {"name": "prof"}, "transform": [{"filter": "datum.p == 3 && datum.s == 'Apoastron' && datum.lp <= 0"}], "mark": {"type": "line", "xOffset": 14, "color": "#7a9ab8", "strokeWidth": 4.5, "clip": true}, "encoding": {"x": {"field": "T", "type": "quantitative", "axis": null}, "y": {"field": "lp", "type": "quantitative", "axis": null}, "order": {"field": "lp", "type": "quantitative"}}},
  {"data": {"name": "prof"}, "transform": [{"filter": "datum.p == 3 && datum.s == 'Apoastron' && datum.lp <= 0"}], "mark": {"type": "line", "xOffset": 10, "color": "#5c82a8", "strokeWidth": 4.5, "clip": true}, "encoding": {"x": {"field": "T", "type": "quantitative", "axis": null}, "y": {"field": "lp", "type": "quantitative", "axis": null}, "order": {"field": "lp", "type": "quantitative"}}},
  {"data": {"name": "prof"}, "transform": [{"filter": "datum.p == 3 && datum.s == 'Apoastron' && datum.lp <= 0"}], "mark": {"type": "line", "xOffset": 6, "color": "#44699a", "strokeWidth": 4.5, "clip": true}, "encoding": {"x": {"field": "T", "type": "quantitative", "axis": null}, "y": {"field": "lp", "type": "quantitative", "axis": null}, "order": {"field": "lp", "type": "quantitative"}}},
  {"data": {"name": "prof"}, "transform": [{"filter": "datum.p == 3 && datum.s == 'Apoastron' && datum.lp <= 0.3"}], "mark": {"type": "line", "xOffset": 3, "color": "#31548a", "strokeWidth": 4, "clip": true}, "encoding": {"x": {"field": "T", "type": "quantitative", "axis": null}, "y": {"field": "lp", "type": "quantitative", "axis": null}, "order": {"field": "lp", "type": "quantitative"}}},
  {"data": {"name": "fill"}, "transform": [{"filter": "datum.p == 3"}], "mark": {"type": "area", "orient": "horizontal", "color": "white", "clip": true}, "encoding": {"y": {"field": "lp", "type": "quantitative", "axis": null}, "x": {"field": "hi", "type": "quantitative", "axis": null}, "x2": {"datum": 1616}}},
  {"data": {"name": "prof"}, "transform": [{"filter": "datum.p == 3"}], "mark": {"type": "line", "strokeWidth": 1.9, "clip": true},
   "encoding": {
    "x": {"field": "T", "type": "quantitative", "axis": {"orient": "bottom", "values": [100,200,300,400,500,600,700,800,900,1000,1100,1200,1300,1400,1500,1600], "format": "d", "labelExpr": "datum.value % 500 === 0 ? datum.label : ''", "tickSize": {"condition": {"test": "datum.value % 500 === 0", "value": -4}, "value": -2}, "labelPadding": 9, "title": "Temperature (K)", "titlePadding": 4}},
    "y": {"field": "lp", "type": "quantitative", "axis": {"orient": "left", "values": [-6, -4, -2, 0, 2], "tickSize": -4, "labels": false, "title": null}},
    "order": {"field": "lp", "type": "quantitative"},
    "color": {"field": "s", "type": "nominal", "scale": {"domain": ["Periastron", "Apoastron", "Secondary", "CO/CH₄", "N₂/NH₃"], "range": ["black", "black", "black", "#9932cc", "#9932cc"]}, "legend": {"title": null}},
    "strokeDash": {"field": "s", "type": "nominal", "scale": {"domain": ["Periastron", "Apoastron", "Secondary", "CO/CH₄", "N₂/NH₃"], "range": [[2, 2], [1, 0], [6.5, 2.5], [5.5, 5.5], [1.5, 4.5]]}, "legend": {"title": null}}}}
 ]
}
],
"resolve": {"scale": {"x": "independent", "y": "independent", "color": "independent", "strokeDash": "independent"}}
}
